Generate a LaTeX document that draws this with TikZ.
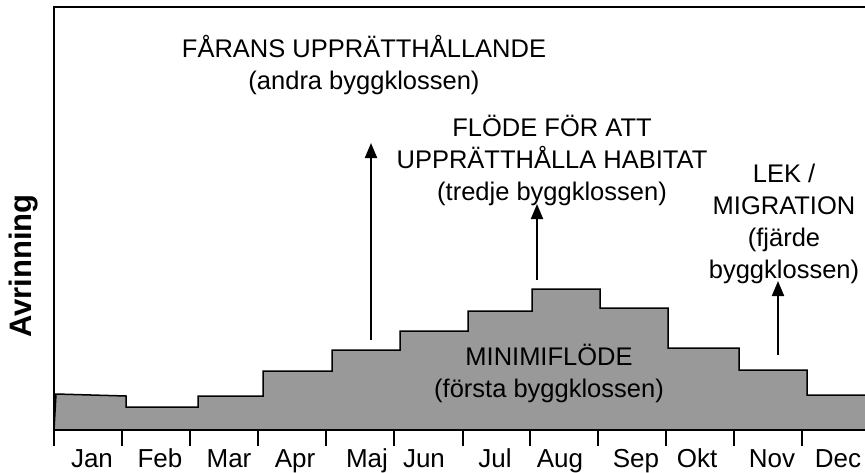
\documentclass[tikz,border=0pt]{standalone}
\usepackage{fontspec}
\setmainfont{Liberation Sans}
\usetikzlibrary{arrows.meta}
\definecolor{flowgray}{gray}{0.6}
\begin{document}
\begin{tikzpicture}[x=1pt,y=-1pt,
  lbl/.style={font=\fontsize{25.5}{32}\selectfont, align=center, inner sep=0pt},
  month/.style={font=\fontsize{26}{28}\selectfont, anchor=base, inner sep=0pt},
  uparrow/.style={line width=2pt, -{Triangle[length=15pt,width=12pt]}},
  frameline/.style={line width=2pt},
  tickline/.style={line width=1.5pt},
  flowarea/.style={fill=flowgray, draw=black, line width=1.5pt, line join=miter}]
\useasboundingbox (0,0) rectangle (865,472);
% flow area
\draw[flowarea] (54,430) -- (56,394) -- (126,396) -- (126,407) -- (198,407) -- (198,396)
  -- (263,396) -- (263,371) -- (332,371) -- (332,350) -- (400,350) -- (400,331)
  -- (468,331) -- (468,311) -- (532,311) -- (532,289) -- (600,289) -- (600,308)
  -- (668,308) -- (668,348) -- (739,348) -- (739,370) -- (807,370) -- (807,395)
  -- (880,395) -- (880,430) -- cycle;
% frame
\draw[frameline] (880,7) -- (54,7) -- (54,430) -- (880,430);
% ticks
\foreach \x in {54,122,190,258,326,394,463,530,598,666,734,802,870}
  \draw[tickline] (\x,430) -- (\x,446);
% months
\foreach \x/\m in {92/Jan,160/Feb,229/Mar,295/Apr,367/Maj,424/Jun,495/Jul,560/Aug,636/Sep,697/Okt,772/Nov,838/Dec}
  \node[month] (m\m) at (\x,467) {\m};
% axis label
\node[rotate=90, inner sep=0pt, font=\bfseries\fontsize{31}{33}\selectfont] (ylab) at (24,266) {Avrinning};
% labels
\node[lbl] (farans) at (364,65) {FÅRANS UPPRÄTTHÅLLANDE\\(andra byggklossen)};
\node[lbl] (habitat) at (552,160) {FLÖDE FÖR ATT\\UPPRÄTTHÅLLA HABITAT\\(tredje byggklossen)};
\node[lbl] (lek) at (784,224) {LEK /\\MIGRATION\\(fjärde\\byggklossen)};
\node[lbl] (minimi) at (549,373) {MINIMIFLÖDE\\(första byggklossen)};
% arrows
\coordinate (a1s) at (371,340); \coordinate (a1e) at (371,143);
\coordinate (a2s) at (537,280); \coordinate (a2e) at (537,204);
\coordinate (a3s) at (778,355); \coordinate (a3e) at (778,281);
\draw[uparrow] (a1s) -- (a1e);
\draw[uparrow] (a2s) -- (a2e);
\draw[uparrow] (a3s) -- (a3e);
\end{tikzpicture}
\end{document}
